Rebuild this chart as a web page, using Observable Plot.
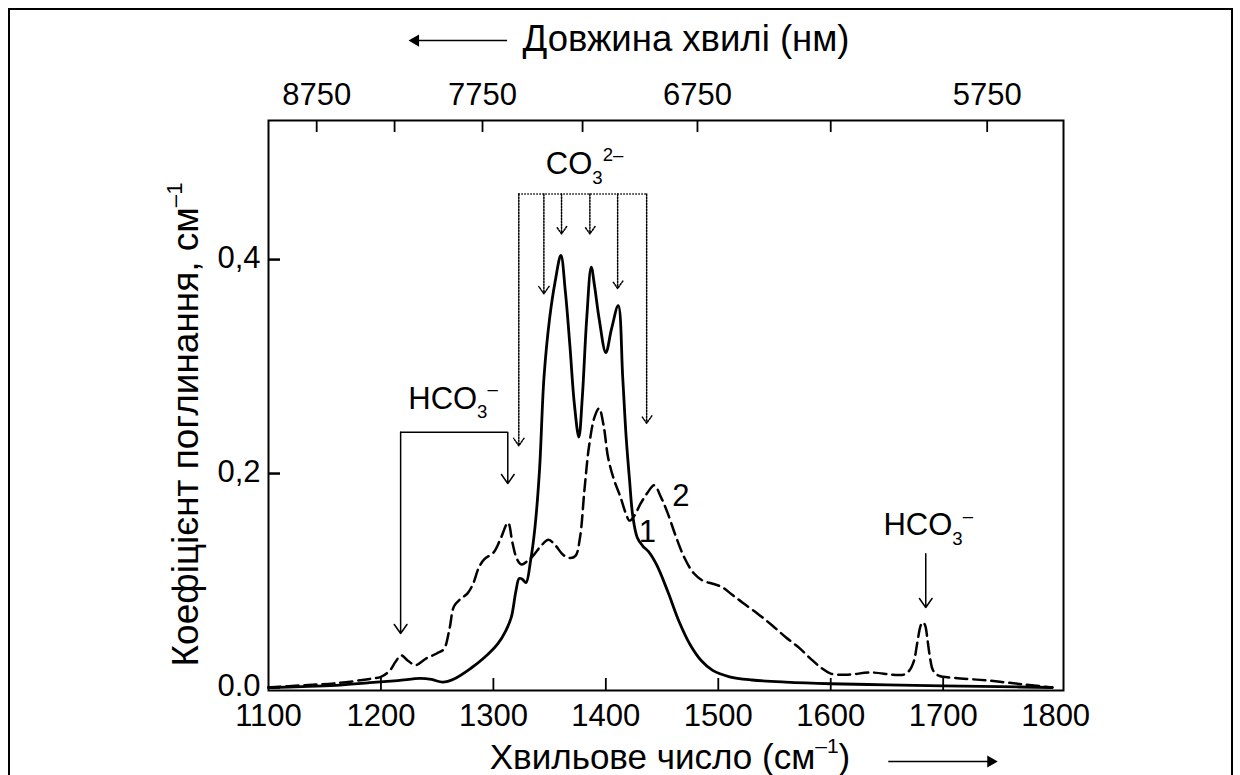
<!DOCTYPE html>
<html><head><meta charset="utf-8">
<script src="https://cdn.jsdelivr.net/npm/d3@7"></script>
<script src="https://cdn.jsdelivr.net/npm/@observablehq/plot@0.6"></script>
<style>
html,body{margin:0;padding:0;background:#fff;overflow:hidden;}
#wrap{position:relative;width:1240px;height:775px;overflow:hidden;}
#border{position:absolute;left:8px;top:8px;width:1225px;height:820px;border:2px solid #000;box-sizing:border-box;pointer-events:none;}
#chart{position:absolute;left:0;top:0;}
</style></head><body>
<div id="wrap"><div id="chart"></div><div id="border"></div></div>
<script>
// ---- Curve 1 (solid) ----
const wn1 = [1100,1130,1160,1190,1215,1235,1245,1255,1265,1280,1292,1304,1311,1316,1320,1323,1326,1329,1333,1337,1341,1345,1350,1355,1360,1364,1368,1372,1376,1379,1383,1387,1390,1394,1400,1405,1411,1415,1418,1421,1424,1428,1433,1438,1445,1455,1465,1475,1485,1495,1510,1530,1560,1600,1650,1700,1750,1797];
const abs1 = [0.000,0.0008,0.002,0.0045,0.0065,0.0085,0.0075,0.005,0.008,0.018,0.028,0.041,0.053,0.066,0.090,0.102,0.101,0.098,0.118,0.150,0.203,0.290,0.345,0.380,0.404,0.370,0.320,0.265,0.234,0.270,0.345,0.393,0.375,0.345,0.313,0.335,0.357,0.290,0.235,0.195,0.160,0.140,0.132,0.127,0.115,0.090,0.062,0.040,0.025,0.016,0.010,0.007,0.005,0.0035,0.0025,0.0015,0.0008,0.000];
// ---- Curve 2 (dashed) ----
const wn2 = [1100,1130,1160,1190,1200,1208,1213,1218,1224,1231,1240,1250,1256,1261,1265,1271,1277,1282,1287,1292,1300,1306,1313,1317,1321,1325,1330,1336,1342,1349,1355,1362,1368,1373,1377,1381,1385,1390,1394,1398,1402,1407,1413,1418,1421,1425,1431,1437,1443,1449,1455,1462,1470,1478,1486,1495,1503,1512,1522,1535,1548,1560,1572,1582,1592,1600,1615,1636,1655,1665,1670,1674,1677,1680,1682,1684,1686,1688,1691,1696,1710,1740,1770,1797];
const abs2 = [0.000,0.002,0.004,0.008,0.010,0.016,0.024,0.030,0.025,0.021,0.027,0.032,0.036,0.055,0.076,0.083,0.088,0.097,0.112,0.120,0.126,0.138,0.154,0.135,0.120,0.115,0.118,0.124,0.132,0.138,0.133,0.124,0.121,0.123,0.140,0.185,0.225,0.253,0.261,0.245,0.215,0.195,0.178,0.162,0.156,0.160,0.172,0.182,0.189,0.178,0.163,0.142,0.121,0.107,0.100,0.097,0.094,0.087,0.079,0.069,0.058,0.047,0.037,0.027,0.018,0.013,0.012,0.014,0.012,0.012,0.016,0.025,0.042,0.058,0.061,0.058,0.045,0.030,0.016,0.011,0.009,0.0065,0.003,0.000];

// ---- Axes ----
const xTickValues = [1100,1200,1300,1400,1500,1600,1700,1800];
const xInnerTicks = [1200,1300,1400,1500,1600,1700];
const yTickValues = [0, 0.2, 0.4];
const yTickLabels = ["0.0", "0,2", "0,4"];
const topWavelengths = [8750,8250,7750,7250,6750,6250,5750];
const topLabelled = [8750,7750,6750,5750];
const xDomain = [1100, 1807];
const yDomain = [-0.0028, 0.53];

// ---- Annotations ----
const hcoLeftX = [1217.5, 1312.8];
const hcoLeftTop = 0.2386;
const hcoLeftTips = [0.0505, 0.1907];
const hcoRightX = 1684.5;
const hcoRightFrom = 0.125, hcoRightTo = 0.0748;
const co3X = [1322.6, 1344.9, 1360.6, 1385.8, 1410.5, 1436.3];
const co3Top = 0.4614;
const co3Tips = [0.226, 0.368, 0.424, 0.424, 0.373, 0.247];
const labelTexts = ["CO_{3}^{2–}", "HCO_{3}^{–}", "HCO_{3}^{–}", "1", "2"];
const labelX = [1381.1, 1264.1, 1686.7, 1436.9, 1466.8];
const labelY = [0.4888, 0.2696, 0.1514, 0.145, 0.179];
const axisTitleX = "Хвильове число (см^{–1})";
const axisTitleTop = "Довжина хвилі (нм)";
const axisTitleY = "Коефіцієнт поглинання, см^{–1}";
const topArrowX = [1312.6, 1230.8], topArrowY = 0.6047;
const botArrowX = [1651.6, 1742.3], botArrowY = -0.0692;

// ---- Build ----
const W = 1240, H = 775, mL = 268, mR = 177, mT = 120, mB = 85;
const pxPerY = (H - mT - mB) / (yDomain[1] - yDomain[0]);
const tickLenY = 12 / pxPerY;
const pxPerX = (W - mL - mR) / (xDomain[1] - xDomain[0]);
const tickLenX = 12 / pxPerX;

const curve1 = wn1.map((x, i) => ({x, y: abs1[i]}));
const curve2 = wn2.map((x, i) => ({x, y: abs2[i]}));
const yLabelMap = new Map(yTickValues.map((v, i) => [v, yTickLabels[i]]));
const topPos = topWavelengths.map(l => 1e7 / l);
const topLabelMap = new Map(topWavelengths.map((l, i) => [topPos[i], topLabelled.includes(l) ? String(l) : ""]));
const labels = labelTexts.map((t, i) => ({t, x: labelX[i], y: labelY[i]}));
const co3Arrows = co3X.map((x, i) => ({x, y1: co3Top, y2: co3Tips[i]}));
const hcoArrows = hcoLeftX.map((x, i) => ({x, y1: hcoLeftTop, y2: hcoLeftTips[i]}));
hcoArrows.push({x: hcoRightX, y1: hcoRightFrom, y2: hcoRightTo});

const plot = Plot.plot({
  width: W, height: H,
  marginLeft: mL, marginRight: mR, marginTop: mT, marginBottom: mB,
  x: {domain: xDomain, label: null}, y: {domain: yDomain, label: null},
  style: {fontFamily: "'Liberation Sans', Arial, sans-serif", fontSize: "31px", color: "#000", background: "transparent"},
  marks: [
    Plot.frame({stroke: "#000", strokeWidth: 2}),
    // bottom axis labels & inner ticks
    Plot.axisX(xTickValues, {anchor: "bottom", label: null, tickSize: 0, tickPadding: 13, fontSize: 31, tickFormat: d => String(d)}),
    Plot.ruleX(xInnerTicks, {x: d => d, y1: yDomain[0], y2: yDomain[0] + tickLenY, stroke: "#000", strokeWidth: 1.8}),
    // top axis
    Plot.axisX(topPos, {anchor: "top", label: null, tickSize: 0, tickPadding: 16, fontSize: 31, tickFormat: d => topLabelMap.get(d)}),
    Plot.ruleX(topPos, {x: d => d, y1: yDomain[1], y2: yDomain[1] - tickLenY, stroke: "#000", strokeWidth: 1.8}),
    // left axis
    Plot.axisY(yTickValues, {anchor: "left", label: null, tickSize: 0, tickPadding: 8, fontSize: 31, dy: -1, tickFormat: d => yLabelMap.get(d)}),
    Plot.ruleY(yTickValues, {y: d => d, x1: xDomain[0], x2: xDomain[0] + tickLenX, stroke: "#000", strokeWidth: 2.5}),
    // curves
    Plot.line(curve1, {x: "x", y: "y", stroke: "#000", strokeWidth: 2.8, curve: "catmull-rom"}),
    Plot.line(curve2, {x: "x", y: "y", stroke: "#000", strokeWidth: 2.5, strokeDasharray: "12,6", curve: "catmull-rom"}),
    // CO3 dotted bracket
    Plot.ruleY([co3Top], {x1: co3X[0], x2: co3X[co3X.length - 1], stroke: "#000", strokeWidth: 1.5, strokeDasharray: "1.5,1.5"}),
    Plot.arrow(co3Arrows, {x: "x", y1: "y1", y2: "y2", stroke: "#000", strokeWidth: 1.5, strokeDasharray: "1.5,1.5", headLength: 9, headAngle: 70}),
    // HCO3 solid arrows
    Plot.ruleY([hcoLeftTop], {x1: hcoLeftX[0], x2: hcoLeftX[1], stroke: "#000", strokeWidth: 1.5}),
    Plot.arrow(hcoArrows, {x: "x", y1: "y1", y2: "y2", stroke: "#000", strokeWidth: 1.5, headLength: 11, headAngle: 70}),
    // annotation labels
    Plot.text(labels, {x: "x", y: "y", text: "t", fontSize: 31, fill: "#000", lineAnchor: "middle"}),
    // axis titles
    Plot.text([axisTitleX], {frameAnchor: "bottom", textAnchor: "middle", dx: 4, dy: 67, lineAnchor: "middle", fontSize: 35, fill: "#000"}),
    Plot.text([axisTitleTop], {frameAnchor: "top", textAnchor: "middle", dx: 20, dy: -81, lineAnchor: "middle", fontSize: 36.5, fill: "#000"}),
    Plot.text([axisTitleY], {frameAnchor: "left", textAnchor: "middle", dx: -82, dy: 19, rotate: -90, lineAnchor: "middle", fontSize: 37, fill: "#000"}),
    // axis title arrows
    Plot.ruleY([topArrowY], {x1: topArrowX[0], x2: topArrowX[1], stroke: "#000", strokeWidth: 1.5}),
    Plot.dot([topArrowX[1]], {x: d => d, y: () => topArrowY, symbol: "triangle", r: 4.5, rotate: -90, fill: "#000", stroke: "none"}),
    Plot.ruleY([botArrowY], {x1: botArrowX[0], x2: botArrowX[1], stroke: "#000", strokeWidth: 1.5}),
    Plot.dot([botArrowX[1]], {x: d => d, y: () => botArrowY, symbol: "triangle", r: 4.5, rotate: 90, fill: "#000", stroke: "none"})
  ]
});
document.getElementById("chart").appendChild(plot);

// Render _{sub} and ^{sup} markup as tspans
const NS = "http://www.w3.org/2000/svg";
d3.select(plot).selectAll("text").each(function() {
  const s = this.textContent;
  if (!/[_^]\{/.test(s)) return;
  const fs = parseFloat(getComputedStyle(this).fontSize) || 31;
  const parts = s.split(/([_^]\{[^}]*\})/).filter(p => p.length);
  while (this.firstChild) this.removeChild(this.firstChild);
  let shift = 0;
  for (const p of parts) {
    let type = "n", txt = p;
    if (p.startsWith("_{")) { type = "sub"; txt = p.slice(2, -1); }
    else if (p.startsWith("^{")) { type = "sup"; txt = p.slice(2, -1); }
    const target = type === "sub" ? fs * 0.3 : type === "sup" ? -fs * 0.45 : 0;
    const t = document.createElementNS(NS, "tspan");
    t.setAttribute("dy", (target - shift).toFixed(2));
    shift = target;
    if (type !== "n") t.setAttribute("font-size", (fs * 0.6).toFixed(1));
    t.textContent = txt;
    this.appendChild(t);
  }
});
</script>
</body></html>
